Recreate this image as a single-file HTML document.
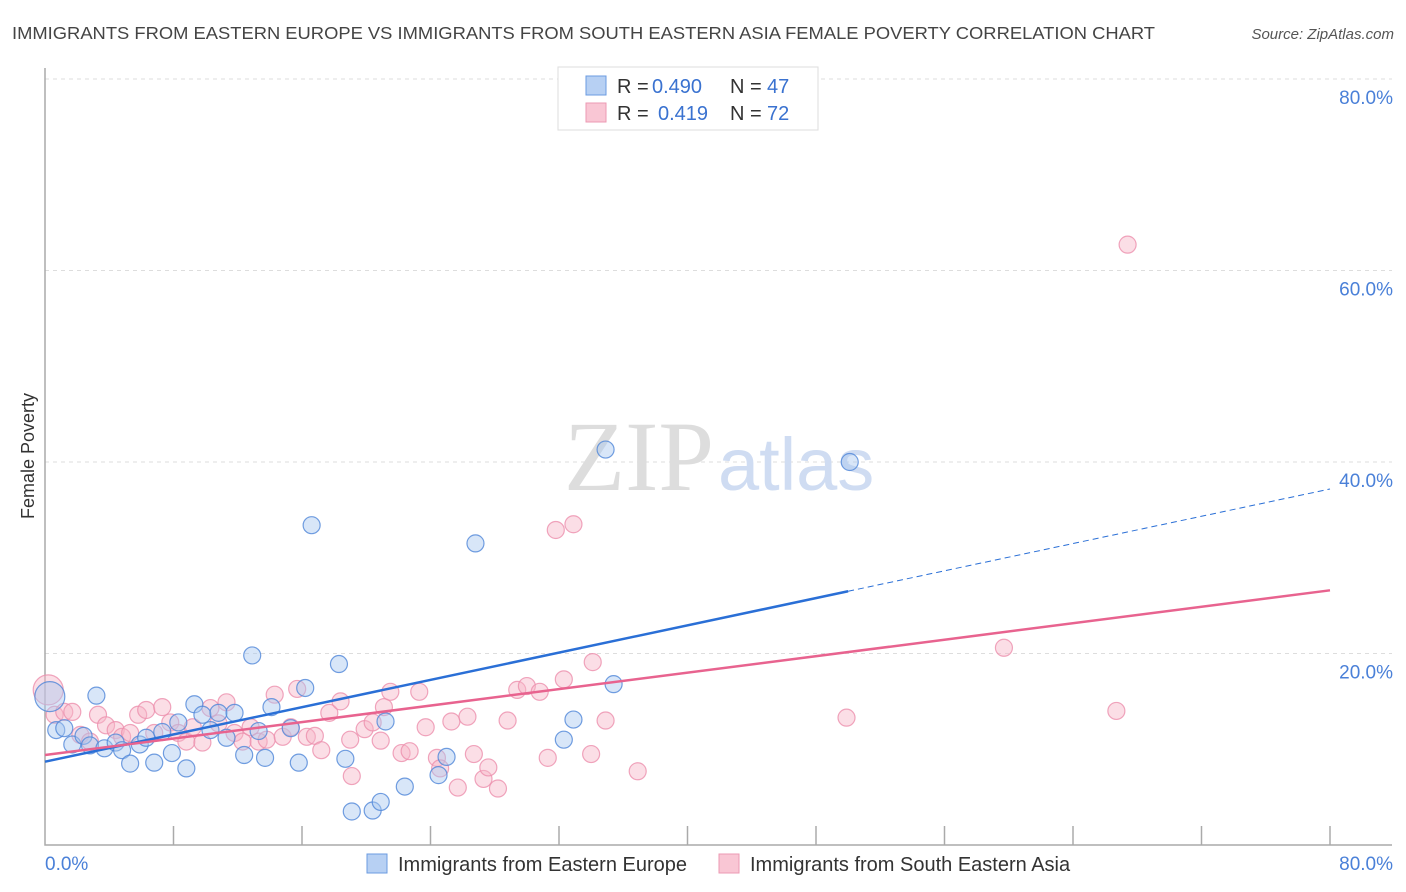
<!DOCTYPE html>
<html><head><meta charset="utf-8"><style>
body{margin:0;background:#fff;font-family:"Liberation Sans",sans-serif;}
svg{display:block}
</style></head><body>
<svg id="chart" width="1406" height="892">
<text x="12" y="39" font-size="17.5" fill="#444" textLength="1143" lengthAdjust="spacingAndGlyphs">IMMIGRANTS FROM EASTERN EUROPE VS IMMIGRANTS FROM SOUTH EASTERN ASIA FEMALE POVERTY CORRELATION CHART</text>
<text x="1394" y="39" font-size="15" fill="#555" font-style="italic" text-anchor="end">Source: ZipAtlas.com</text>
<text x="34" y="456" font-size="18" fill="#333" text-anchor="middle" transform="rotate(-90 34 456)">Female Poverty</text>
<g id="grid"></g>
<text x="714" y="490" font-size="100" fill="#ddd" text-anchor="end" font-family="Liberation Serif,serif">ZIP</text>
<text x="718" y="490" font-size="74" fill="#cfdcf2">atlas</text>
<g id="marks"></g>
<g>
<rect x="558" y="67" width="260" height="63" fill="#fff" stroke="#ddd"/>
<rect x="586" y="76" width="20" height="19" fill="#b7d0f3" stroke="#6b9be0"/>
<rect x="586" y="103" width="20" height="19" fill="#f9c6d4" stroke="#ec9ab3"/>
<text x="617" y="93" font-size="20" fill="#333">R =</text>
<text x="652" y="93" font-size="20" fill="#3a72d0">0.490</text>
<text x="730" y="93" font-size="20" fill="#333">N =</text>
<text x="767" y="93" font-size="20" fill="#3a72d0">47</text>
<text x="617" y="120" font-size="20" fill="#333">R =</text>
<text x="658" y="120" font-size="20" fill="#3a72d0">0.419</text>
<text x="730" y="120" font-size="20" fill="#333">N =</text>
<text x="767" y="120" font-size="20" fill="#3a72d0">72</text>
</g>
<g>
<rect x="367" y="854" width="20" height="19" fill="#b7d0f3" stroke="#6b9be0"/>
<text x="398" y="871" font-size="20" fill="#333">Immigrants from Eastern Europe</text>
<rect x="719" y="854" width="20" height="19" fill="#f9c6d4" stroke="#ec9ab3"/>
<text x="750" y="871" font-size="20" fill="#333">Immigrants from South Eastern Asia</text>
</g>
</svg>
<script>
const yTicks=[20,40,60,80];
const xTickLabels=["0.0%","80.0%"];
const blueX=[0.3,0.7,1.2,1.7,2.4,2.8,3.2,3.7,4.4,4.8,5.3,5.9,6.3,6.8,7.3,7.9,8.3,8.8,9.3,9.8,10.3,10.8,11.3,11.8,12.4,12.9,13.3,13.7,14.1,15.3,15.8,16.2,16.6,18.3,18.7,19.1,20.4,20.9,21.2,22.4,24.5,25.0,26.8,32.3,32.9,34.9,35.4,50.1];
const blueY=[15.5,12.0,12.2,10.5,11.4,10.4,15.6,10.1,10.7,9.9,8.5,10.5,11.2,8.6,11.8,9.6,12.8,8.0,14.7,13.6,12.0,13.8,11.2,13.8,9.4,19.8,11.9,9.1,14.4,12.2,8.6,16.4,33.4,18.9,9.0,3.5,3.6,4.5,12.9,6.1,7.3,9.2,31.5,11.0,13.1,41.3,16.8,40.0];
const pinkX=[0.2,0.6,1.2,1.7,2.2,2.8,3.3,3.8,4.4,4.8,5.3,5.8,6.3,6.8,7.3,7.8,8.3,8.8,9.2,9.8,10.3,10.8,11.3,11.8,12.3,12.8,13.3,13.8,14.3,14.8,15.3,15.7,16.3,16.8,17.2,17.7,18.4,19.0,19.1,19.9,20.4,20.9,21.1,21.5,22.2,22.7,23.3,23.7,24.4,24.6,25.3,25.7,26.3,26.7,27.3,27.6,28.2,28.8,29.4,30.0,30.8,31.3,31.8,32.3,32.9,34.0,34.1,34.9,36.9,49.9,59.7,66.7,67.4];
const pinkY=[16.2,13.6,13.9,13.9,11.5,10.8,13.6,12.5,12.0,11.3,11.7,13.6,14.1,11.7,14.4,12.8,11.7,10.8,12.3,10.7,14.3,12.7,14.9,11.7,10.8,12.3,10.8,11.0,15.7,11.3,12.3,16.3,11.3,11.4,9.9,13.8,15.0,11.0,7.2,12.1,12.8,10.9,14.4,16.0,9.6,9.8,16.0,12.3,9.1,8.0,12.9,6.0,13.4,9.5,6.9,8.1,5.9,13.0,16.2,16.6,16.0,9.1,32.9,17.3,33.5,9.5,19.1,13.0,7.7,13.3,20.6,14.0,62.7];
const blueFit=[8.7,0.356], pinkFit=[9.4,0.215];
const NS='http://www.w3.org/2000/svg';
const X=v=>45+v*(1285/80), Y=v=>845-v*(766/80);
function mk(t,a,p){const e=document.createElementNS(NS,t);for(const k in a)e.setAttribute(k,a[k]);p.appendChild(e);return e;}
const grid=document.getElementById('grid'), marks=document.getElementById('marks');
yTicks.forEach(t=>{
 const l=mk('line',{x1:45,x2:1392,y1:Y(t),y2:Y(t),stroke:'#ddd','stroke-dasharray':'4,4'},grid);
 
 
 const tx=mk('text',{x:1393,y:Y(t)+25,'font-size':19,fill:'#4a80d8','text-anchor':'end'},grid);
 tx.textContent=t.toFixed(1)+'%';
 
 
});
const ax=mk('path',{d:'M45,68 V845 H1392',fill:'none',stroke:'#aaa','stroke-width':1.5},grid);


for(let i=1;i<=10;i++){const xv=i*8;const t=mk('line',{x1:X(xv),x2:X(xv),y1:826,y2:845,stroke:'#aaa','stroke-width':1.5},grid);
 
 }
[[0,'start',45],[80,'end',1393]].forEach((d,i)=>{const t=mk('text',{x:d[2],y:870,'font-size':19,fill:'#4a80d8','text-anchor':d[1]},grid);t.textContent=xTickLabels[i];
 
 });
function pts(xs,ys,fill,stroke,name){xs.forEach((x,i)=>{const r=(i==0)?15:8.5;
 const c=mk('circle',{cx:X(x),cy:Y(ys[i]),r:r,fill:fill,'fill-opacity':0.45,stroke:stroke,'stroke-width':1.2,'stroke-opacity':0.8},marks);
 
 });}
pts(pinkX,pinkY,'#f7b6c8','#ec8fac','pink-point');
pts(blueX,blueY,'#a9c7f0','#4f86d8','blue-point');
const bl=mk('line',{x1:X(0),y1:Y(blueFit[0]),x2:X(50),y2:Y(blueFit[0]+50*blueFit[1]),stroke:'#2a6fd6','stroke-width':2.5},marks);


const bd=mk('line',{x1:X(50),y1:Y(blueFit[0]+50*blueFit[1]),x2:X(80),y2:Y(blueFit[0]+80*blueFit[1]),stroke:'#2a6fd6','stroke-width':1,'stroke-dasharray':'6,4'},marks);


const pl=mk('line',{x1:X(0),y1:Y(pinkFit[0]),x2:X(80),y2:Y(pinkFit[0]+80*pinkFit[1]),stroke:'#e8638f','stroke-width':2.5},marks);


</script>
</body></html>
